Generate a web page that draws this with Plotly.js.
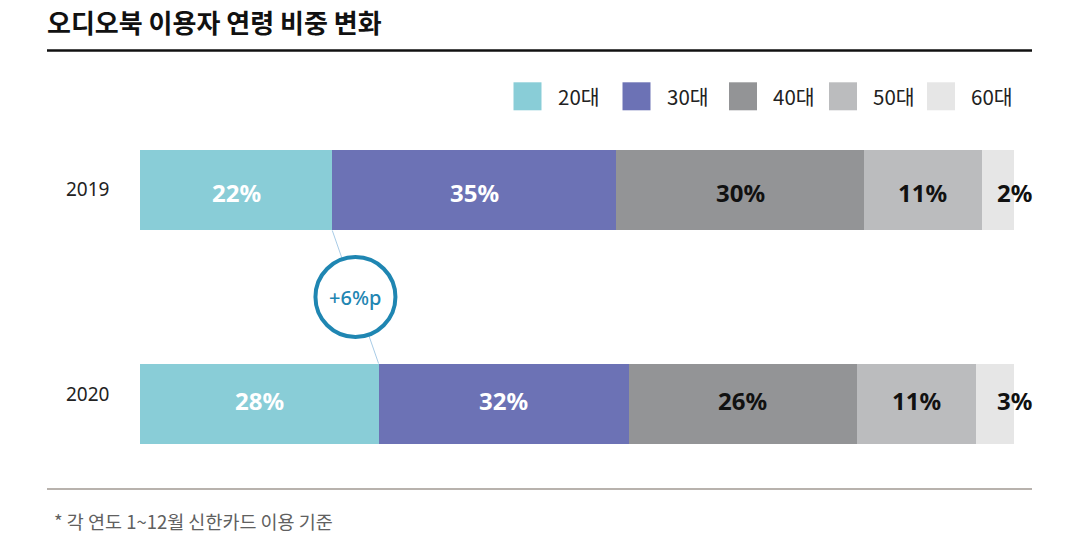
<!DOCTYPE html>
<html>
<head>
<meta charset="utf-8">
<script src="https://cdn.plot.ly/plotly-3.0.1.min.js"></script>
<style>html,body{margin:0;padding:0;background:#fff;}#chart{width:1080px;height:541px;}</style>
</head>
<body>
<div id="chart"></div>
<script>
// ---- data ----
const years = ['2019', '2020'];
const ageGroups = ['20대', '30대', '40대', '50대', '60대'];
// segment widths (share of bar, %)
const v20 = [22.0, 27.3];
const v30 = [32.5, 28.6];
const v40 = [28.3, 26.1];
const v50 = [13.5, 13.6];
const v60 = [3.7, 4.4];
// printed labels
const l20 = ['22%', '28%'];
const l30 = ['35%', '32%'];
const l40 = ['30%', '26%'];
const l50 = ['11%', '11%'];
const l60 = ['2%', '3%'];
const changeLabel = '+6%p';
const titleText = '오디오북 이용자 연령 비중 변화';
const noteText = '* 각 연도 1~12월 신한카드 이용 기준';

// ---- styles ----
const colors = ['#89cdd7', '#6c72b5', '#939496', '#bbbcbe', '#e6e6e6'];
const labelColors = ['#ffffff', '#ffffff', '#111111', '#111111', '#111111'];
const values = [v20, v30, v40, v50, v60];
const labels = [l20, l30, l40, l50, l60];
const yearLabelShift = [1, 10];   // px, upward
const valueLabelShift = [-2, 4];  // px, upward

const W = 1080, H = 541;
const M = {l: 140, r: 66, t: 83, b: 30};
const PW = W - M.l - M.r, PH = H - M.t - M.b;
const px = x => (x - M.l) / PW;          // pixel -> paper x
const py = y => (H - M.b - y) / PH;      // pixel -> paper y
const BARW = 0.378;
const numFont = 'Noto Sans, Open Sans, sans-serif';
const krFont = 'Noto Sans CJK KR, Noto Sans, sans-serif';

const traces = ageGroups.map((g, i) => ({
  type: 'bar',
  orientation: 'h',
  name: g,
  y: years,
  x: values[i],
  width: BARW,
  marker: {color: colors[i], line: {width: 0}},
  hoverinfo: 'skip',
  showlegend: false
}));

const annotations = [];
const shapes = [];

// value labels: centred in segments, last one centred on bar end
years.forEach((y, j) => {
  let cum = 0;
  values.forEach((arr, i) => {
    const start = cum;
    cum += arr[j];
    annotations.push({
      x: i < 4 ? start + arr[j] / 2 : cum, y: j, xref: 'x', yref: 'y',
      text: labels[i][j], showarrow: false, xanchor: 'center', yanchor: 'middle',
      yshift: valueLabelShift[j],
      font: {family: numFont, size: 24, color: labelColors[i], weight: 700}
    });
  });
  // year label
  annotations.push({
    x: 0, y: j, xref: 'x', yref: 'y', text: y, showarrow: false,
    xanchor: 'right', yanchor: 'middle', xshift: -29, yshift: yearLabelShift[j],
    font: {family: numFont, size: 19, color: '#222222'}
  });
});

// connector line between 20대 ends and circle
shapes.push({
  type: 'line', xref: 'x', yref: 'y',
  x0: v20[0], y0: 0 + BARW / 2, x1: v20[1], y1: 1 - BARW / 2,
  line: {color: '#a8cbe6', width: 1}
});
const cx = (v20[0] + v20[1]) / 2;
shapes.push({
  type: 'circle', xref: 'x', yref: 'y', xsizemode: 'pixel', ysizemode: 'pixel',
  xanchor: cx, yanchor: 0.5, x0: -40, x1: 40, y0: -40, y1: 40,
  fillcolor: '#ffffff', line: {color: '#1f86b2', width: 4}
});
annotations.push({
  x: cx, y: 0.5, xref: 'x', yref: 'y', text: changeLabel, showarrow: false,
  xanchor: 'center', yanchor: 'middle',
  font: {family: numFont, size: 20, color: '#1f86b2', weight: 500}
});

// title rule & bottom rule
shapes.push({type: 'line', xref: 'paper', yref: 'paper', x0: px(47), x1: px(1032), y0: py(50.5), y1: py(50.5), line: {color: '#111111', width: 2.5}});
shapes.push({type: 'line', xref: 'paper', yref: 'paper', x0: px(47), x1: px(1032), y0: py(489), y1: py(489), line: {color: '#a09892', width: 1.5}});

// custom legend
const legendX = [513.5, 622.5, 729, 829, 927];
const legendY = 96.3;
ageGroups.forEach((g, i) => {
  shapes.push({
    type: 'rect', xref: 'paper', yref: 'paper',
    x0: px(legendX[i]), x1: px(legendX[i] + 28), y0: py(legendY + 14), y1: py(legendY - 14),
    fillcolor: colors[i], line: {width: 0}
  });
  annotations.push({
    x: px(legendX[i] + 42), y: py(legendY), xref: 'paper', yref: 'paper', text: g, showarrow: false,
    xanchor: 'left', yanchor: 'middle',
    font: {family: krFont, size: 20.5, color: '#222222'}
  });
});

// footnote
annotations.push({
  x: px(52), y: py(521), xref: 'paper', yref: 'paper', text: noteText, showarrow: false,
  xanchor: 'left', yanchor: 'middle',
  font: {family: krFont, size: 18.5, color: '#606060'}
});

const layout = {
  width: W, height: H,
  margin: M,
  paper_bgcolor: '#ffffff', plot_bgcolor: '#ffffff',
  barmode: 'stack',
  bargap: 0,
  showlegend: false,
  title: {
    text: '<b>' + titleText + '</b>',
    x: 47 / W, xanchor: 'left', xref: 'container',
    y: 1 - 24 / H, yanchor: 'middle', yref: 'container',
    font: {family: krFont, size: 26, color: '#111111'}
  },
  xaxis: {range: [0, 100], visible: false, fixedrange: true},
  yaxis: {
    type: 'category', categoryarray: years, categoryorder: 'array',
    range: [1.5, -0.5], showgrid: false, zeroline: false, showline: false,
    ticks: '', showticklabels: false, fixedrange: true
  },
  shapes: shapes,
  annotations: annotations
};

Plotly.newPlot('chart', traces, layout, {staticPlot: true, displayModeBar: false});
</script>
</body>
</html>
